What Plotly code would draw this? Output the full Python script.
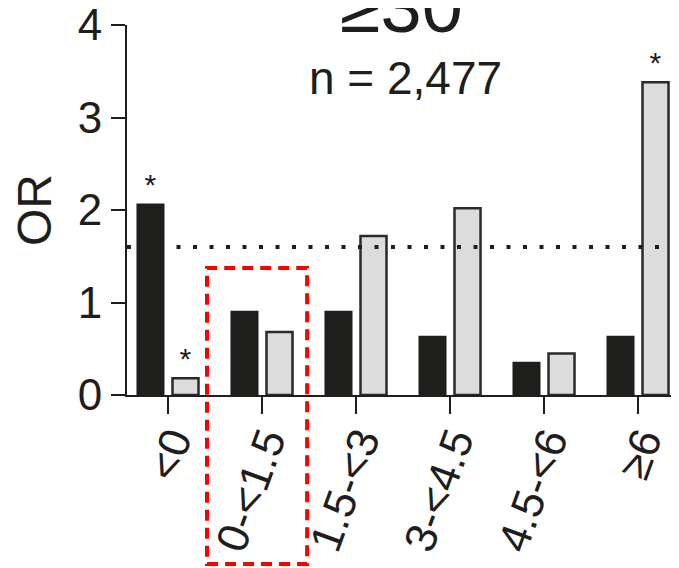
import plotly.graph_objects as go

categories = ["<0", "0-<1.5", "1.5-<3", "3-<4.5", "4.5-<6", "≥6"]
series_black = [2.06, 0.90, 0.90, 0.63, 0.35, 0.63]
series_gray = [0.18, 0.68, 1.72, 2.02, 0.45, 3.38]
sig_black = ["*", "", "", "", "", ""]
sig_gray = ["*", "", "", "", "", "*"]
reference_or = 1.6
title_text = "≥30"
n_text = "n = 2,477"
y_ticks = [0, 1, 2, 3, 4]
highlight_category = "0-<1.5"

FONT = "Liberation Sans, Arial, sans-serif"
INK = "#1e1e1c"

fig = go.Figure()
fig.add_trace(go.Bar(
    x=categories, y=series_black, name="black",
    marker=dict(color=INK, line=dict(color=INK, width=2)),
    text=sig_black, textposition="outside",
    textfont=dict(family=FONT, size=30, color=INK),
    cliponaxis=False,
))
fig.add_trace(go.Bar(
    x=categories, y=series_gray, name="gray",
    marker=dict(color="#dcdcdc", line=dict(color="#2a2a2a", width=2.5)),
    text=sig_gray, textposition="outside",
    textfont=dict(family=FONT, size=30, color=INK),
    cliponaxis=False,
))

# dotted reference line
fig.add_shape(type="line", xref="paper", x0=0, x1=1, yref="y",
              y0=reference_or, y1=reference_or,
              line=dict(color=INK, width=4, dash="4px,12.5px"))

# red dashed highlight box around one category
hi = categories.index(highlight_category)
fig.add_shape(type="rect", xref="x", x0=hi - 0.585, x1=hi + 0.48,
              yref="paper", y0=-0.457, y1=0.343,
              line=dict(color="#ff0000", width=4, dash="11px,7px"),
              fillcolor="rgba(0,0,0,0)")

fig.add_annotation(text=title_text, xref="paper", yref="paper", x=0.497, y=1.051,
                   xanchor="center", yanchor="middle", showarrow=False,
                   font=dict(family=FONT, size=74, color=INK))
fig.add_annotation(text=n_text, xref="paper", yref="paper", x=0.504, y=0.857,
                   xanchor="center", yanchor="middle", showarrow=False,
                   font=dict(family=FONT, size=46, color=INK))

# page body has an 8px margin: figure is 8px smaller so it fills the window
fig.update_layout(
    width=671, height=560,
    margin=dict(l=119, r=0, t=17, b=173, pad=0, autoexpand=False),
    paper_bgcolor="white", plot_bgcolor="white",
    showlegend=False,
    barmode="group", bargap=0.255, bargroupgap=0.257,
    font=dict(family=FONT, color=INK),
)
fig.update_xaxes(
    range=[-0.436, 5.436], showline=True, linecolor=INK, linewidth=2,
    ticks="outside", ticklen=17, tickwidth=2, tickcolor=INK,
    tickangle=-70, tickfont=dict(family=FONT, size=44, color=INK),
    showgrid=False, zeroline=False, ticklabelshift=4, ticklabelstandoff=-16,
    ticklabeloverflow="allow", automargin=False,
)
fig.update_yaxes(
    range=[0, 4], tickvals=y_ticks, showline=True, linecolor=INK, linewidth=2,
    ticks="outside", ticklen=14, tickwidth=2, tickcolor=INK,
    tickfont=dict(family=FONT, size=44, color=INK),
    showgrid=False, zeroline=False, ticklabeloverflow="allow", automargin=False,
    title=dict(text="OR", font=dict(family=FONT, size=48, color=INK), standoff=12),
)

fig.write_html("out.html")
